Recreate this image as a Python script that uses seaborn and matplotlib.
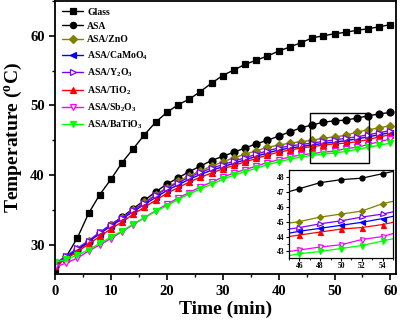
import numpy as np
import pandas as pd
import matplotlib
matplotlib.use("Agg")
import matplotlib.pyplot as plt
from matplotlib.ticker import MultipleLocator
from matplotlib.patches import Rectangle
import seaborn as sns

sns.set_style("ticks")
plt.rcParams['font.family'] = ['Liberation Serif', 'DejaVu Serif']
plt.rcParams['font.weight'] = 'bold'
plt.rcParams['mathtext.fontset'] = 'custom'
plt.rcParams['mathtext.rm'] = 'Liberation Serif:bold'
plt.rcParams['mathtext.it'] = 'Liberation Serif:bold'
plt.rcParams['mathtext.bf'] = 'Liberation Serif:bold'
plt.rcParams['mathtext.default'] = 'rm'
for k in ['text.color', 'axes.labelcolor', 'xtick.color', 'ytick.color', 'axes.edgecolor']:
    plt.rcParams[k] = 'black'

time = list(range(0, 61, 2))

glass = [26.6, 28.3, 31.0, 34.5, 37.2, 39.4, 41.8, 43.8, 45.8, 47.6, 49.0, 50.1, 50.9, 52.0, 53.2,
         54.3, 55.1, 55.9, 56.5, 57.1, 57.8, 58.4, 59.0, 59.7, 60.0, 60.3, 60.5, 60.8, 61.0, 61.3, 61.6]
asa = [27.0, 28.2, 29.2, 30.4, 31.7, 32.9, 34.0, 35.2, 36.4, 37.6, 38.7, 39.6, 40.5, 41.3, 42.1,
       42.7, 43.3, 43.9, 44.5, 45.0, 45.6, 46.2, 46.8, 47.2, 47.6, 47.8, 47.9, 48.2, 48.5, 48.8, 49.0]
zno = [27.2, 28.3, 29.4, 30.5, 31.7, 32.8, 33.9, 35.0, 36.1, 37.2, 38.2, 39.1, 39.9, 40.6, 41.3,
       41.9, 42.5, 43.0, 43.5, 44.0, 44.3, 44.6, 44.8, 45.0, 45.3, 45.5, 45.7, 46.2, 46.5, 46.8, 47.1]
camoo4 = [27.2, 28.3, 29.3, 30.5, 31.6, 32.7, 33.7, 34.8, 35.8, 36.8, 37.8, 38.6, 39.4, 40.1, 40.7,
          41.2, 41.7, 42.2, 42.7, 43.2, 43.6, 43.9, 44.1, 44.35, 44.55, 44.75, 44.95, 45.2, 45.5, 45.8, 46.1]
y2o3 = [27.3, 28.4, 29.5, 30.6, 31.8, 32.9, 33.9, 35.0, 36.0, 37.1, 38.1, 38.9, 39.7, 40.4, 41.0,
        41.5, 42.0, 42.5, 43.0, 43.5, 43.9, 44.2, 44.4, 44.6, 44.85, 45.05, 45.3, 45.5, 45.8, 46.1, 46.4]
tio2 = [27.0, 28.0, 29.0, 30.1, 31.2, 32.3, 33.3, 34.4, 35.4, 36.4, 37.4, 38.2, 39.0, 39.7, 40.3,
        40.9, 41.4, 41.9, 42.4, 42.9, 43.3, 43.6, 43.9, 44.1, 44.3, 44.5, 44.6, 44.8, 45.1, 45.5, 45.8]
sb2o3 = [26.8, 27.4, 28.1, 29.1, 30.0, 30.9, 31.9, 32.9, 33.9, 34.9, 35.8, 36.7, 37.5, 38.3, 39.0,
         39.7, 40.3, 40.8, 41.3, 41.8, 42.2, 42.6, 42.9, 43.1, 43.3, 43.45, 43.8, 44.0, 44.4, 44.8, 45.2]
batio3 = [27.5, 27.9, 28.5, 29.3, 30.2, 31.1, 32.0, 33.0, 33.9, 34.8, 35.6, 36.5, 37.3, 38.0, 38.7,
          39.4, 40.0, 40.5, 41.0, 41.5, 41.9, 42.3, 42.6, 42.85, 43.0, 43.2, 43.4, 43.7, 44.0, 44.3, 44.6]

labels = ["Glass", "ASA", "ASA/ZnO", "ASA/CaMoO$_4$", "ASA/Y$_2$O$_3$",
          "ASA/TiO$_2$", "ASA/Sb$_2$O$_3$", "ASA/BaTiO$_3$"]
series = [glass, asa, zno, camoo4, y2o3, tio2, sb2o3, batio3]
colors = ["black", "black", "#808000", "#0000ff", "#8000ff", "#ff0000", "#ff00ff", "#00ff00"]
markers = ["s", "o", "D", "<", ">", "^", "v", "v"]
filled = [True, True, True, True, False, True, False, True]

df = pd.DataFrame({"time": np.tile(time, len(series)),
                   "temp": np.concatenate(series),
                   "sample": np.repeat(labels, len(time))})

fig = plt.figure(figsize=(4.0, 3.24), dpi=100)
ax = fig.add_axes([0.1375, 0.154, 0.8525, 0.843])

def draw(axis, ms, lw, xmin=None, xmax=None):
    for lab, col, mk, fl in zip(labels, colors, markers, filled):
        d = df[df["sample"] == lab]
        if xmin is not None:
            d = d[(d["time"] >= xmin) & (d["time"] <= xmax)]
        sns.lineplot(data=d, x="time", y="temp", ax=axis, color=col, marker=mk,
                     markersize=ms if mk != "D" else ms * 0.85, linewidth=lw,
                     markerfacecolor=col if fl else "white", markeredgecolor=col,
                     markeredgewidth=0.9, label=lab, legend=False)

draw(ax, 5.0, 1.0)
ax.set_xlim(0, 61)
ax.set_ylim(25.8, 65)
ax.xaxis.set_major_locator(MultipleLocator(10))
ax.xaxis.set_minor_locator(MultipleLocator(5))
ax.yaxis.set_major_locator(MultipleLocator(10))
ax.yaxis.set_minor_locator(MultipleLocator(5))
ax.tick_params(which="major", length=4, width=1.2, labelsize=10.5, direction="out")
ax.tick_params(which="minor", length=2.5, width=1.0, direction="out")
for lbl in ax.get_xticklabels() + ax.get_yticklabels():
    lbl.set_fontweight("bold")
for s in ax.spines.values():
    s.set_linewidth(1.3)
    s.set_color("black")
ax.set_xlabel("Time (min)", fontsize=14, fontweight="bold", labelpad=2)
ax.set_ylabel("Temperature ($^o$C)", fontsize=14, fontweight="bold", labelpad=4)

ax.add_patch(Rectangle((45.7, 41.8), 10.5, 7.1, fill=False, edgecolor="black", linewidth=1.0, zorder=5))

leg = ax.legend(loc="upper left", frameon=False, fontsize=7, handlelength=2.2,
                labelspacing=0.5, borderaxespad=0.3, handletextpad=0.4,
                bbox_to_anchor=(0.0, 1.0), markerscale=0.9)
for t in leg.get_texts():
    t.set_fontweight("bold")

axi = fig.add_axes([0.7225, 0.203, 0.26, 0.2725])
draw(axi, 3.6, 0.9, 44, 56)
axi.set_xlim(45, 55)
axi.set_ylim(42.55, 48.45)
axi.xaxis.set_major_locator(MultipleLocator(2))
axi.xaxis.set_minor_locator(MultipleLocator(1))
axi.yaxis.set_major_locator(MultipleLocator(1))
axi.yaxis.set_minor_locator(MultipleLocator(0.5))
axi.tick_params(which="major", length=2, width=0.8, labelsize=5.5, pad=1)
axi.tick_params(which="minor", length=1.2, width=0.6)
axi.set_xlabel("")
axi.set_ylabel("")
for s in axi.spines.values():
    s.set_linewidth(0.9)
    s.set_color("black")

fig.savefig("out.png", dpi=100)
